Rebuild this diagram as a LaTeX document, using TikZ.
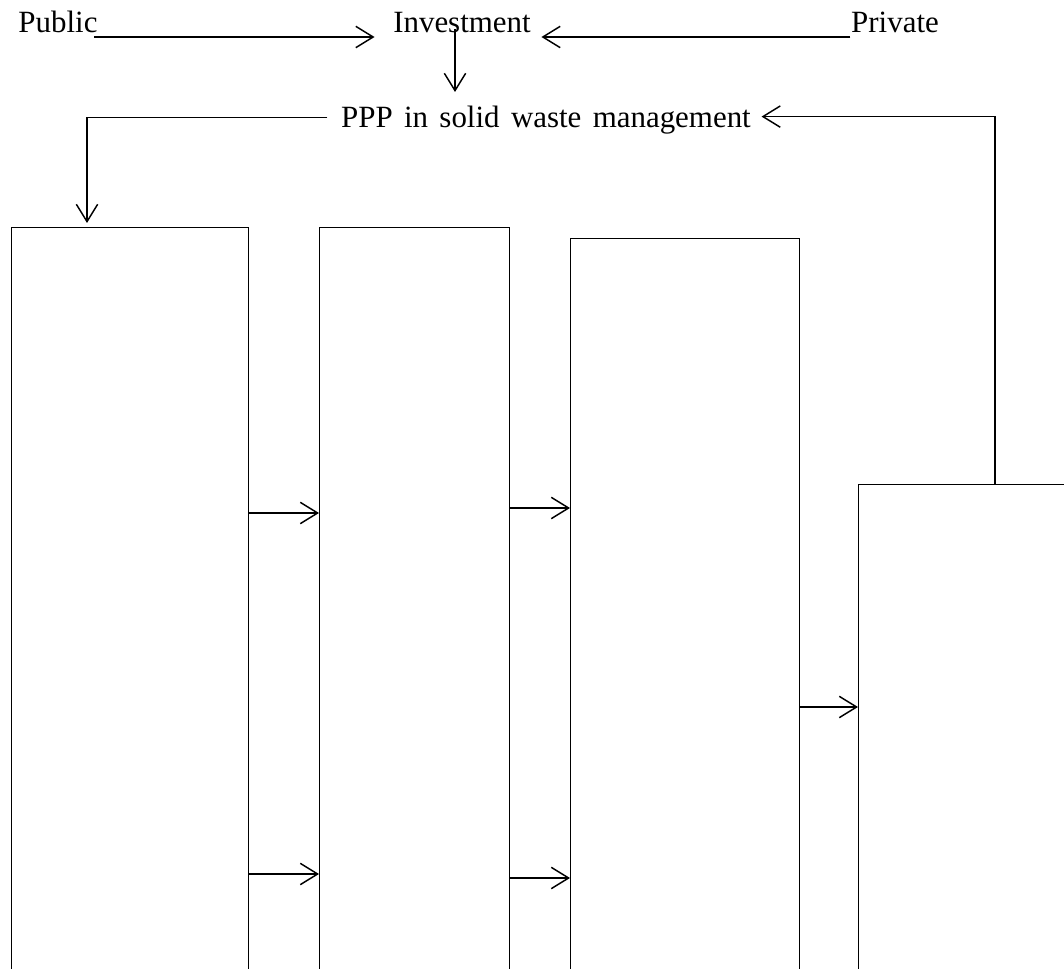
\documentclass[tikz,border=0pt]{standalone}
\usepackage{fontspec}
\setmainfont{Liberation Serif}
\usetikzlibrary{arrows.meta,calc}
\newcommand\lblfont{\fontsize{23.2pt}{27pt}\selectfont\spaceskip=8.5pt\relax}

\begin{document}
\begin{tikzpicture}[x=0.75pt,y=-0.75pt,line width=1.1pt,
  arr/.style={-{Straight Barb[length=13pt,width=16pt,line width=1.1pt]}},
  lbl/.style={inner sep=0pt,anchor=base,font=\lblfont},
  box/.style={draw,anchor=north west,inner sep=0pt}]
\useasboundingbox (0,0) rectangle (1064,969);
\clip (0,0) rectangle (1064,969);
\node[lbl] (public) at (58,33) {Public};
\node[lbl] (invest) at (462,33) {Investment};
\node[lbl] (private) at (895,33) {Private};
\node[lbl] (ppp) at (546,128) {PPP in solid waste management};
\node[box,minimum width=177.75pt,minimum height=579.75pt] (box1) at (11,227) {};
\node[box,minimum width=142.5pt,minimum height=579.75pt] (box2) at (319,227) {};
\node[box,minimum width=171.75pt,minimum height=571.5pt] (box3) at (570,238) {};
\node[box,minimum width=181.5pt,minimum height=387pt] (box4) at (858,484) {};
\draw[arr] ($(public.base east)+(-4,4)$) -- ($(invest.base west)+(-18,4)$);
\draw[arr] ($(private.base west)+(0,4)$) -- ($(invest.base east)+(10,4)$);
\draw[arr] ($(invest.base)+(-7,-4)$) -- ($(invest.base)+(-7,59)$);
\draw[arr] ($(ppp.west)+(-13,-3)$) -| ($(box1.north west)+(76,-4)$);
\draw[arr] ($(box4.north west)+(137,0)$) |- ($(ppp.east)+(10,-4)$);
\draw[arr] ($(box1.north east)+(0,286)$) -- ($(box2.north west)+(0,286)$);
\draw[arr] ($(box2.north east)+(0,281)$) -- ($(box3.north west)+(0,270)$);
\draw[arr] ($(box3.north east)+(0,469)$) -- ($(box4.north west)+(0,223)$);
\draw[arr] ($(box1.north east)+(0,647)$) -- ($(box2.north west)+(0,647)$);
\draw[arr] ($(box2.north east)+(0,651)$) -- ($(box3.north west)+(0,640)$);
\end{tikzpicture}
\end{document}
